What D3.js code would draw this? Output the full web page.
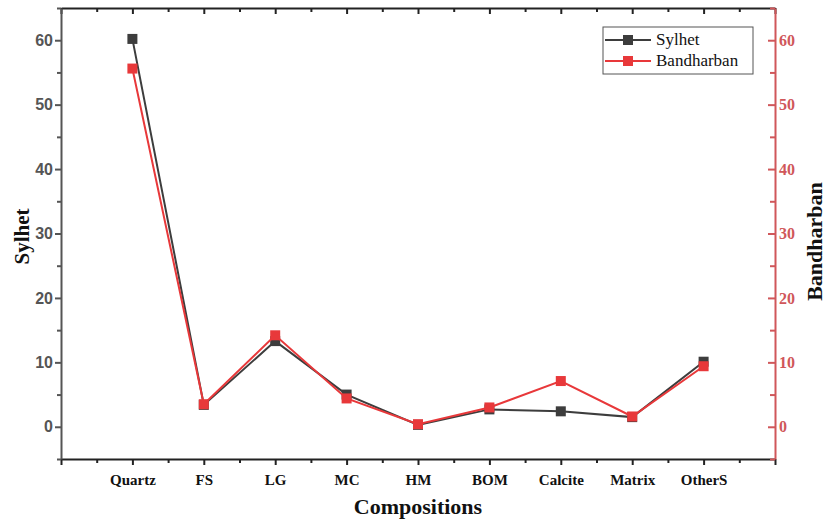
<!DOCTYPE html>
<html>
<head>
<meta charset="utf-8">
<script src="https://cdn.jsdelivr.net/npm/d3@7"></script>
<style>
  body { margin: 0; background: #fff; }
  svg { display: block; }
</style>
</head>
<body>
<div id="chart"></div>
<script>
// data
var categories = ["Quartz", "FS", "LG", "MC", "HM", "BOM", "Calcite", "Matrix", "OtherS"];
var sylhet = [60.2, 3.4, 13.3, 5.0, 0.3, 2.7, 2.4, 1.5, 10.1];
var bandharban = [55.6, 3.5, 14.2, 4.4, 0.4, 3.0, 7.1, 1.6, 9.4];
var yTicks = [0, 10, 20, 30, 40, 50, 60];

var svgWidth = 827, svgHeight = 521;
var margin = { top: 8, right: 52, bottom: 62, left: 61 };
var width = svgWidth - margin.left - margin.right;
var height = svgHeight - margin.top - margin.bottom;

var grayColor = "#3d3d3d", redColor = "#e8383a", redAxis = "#d0575a";

var x = d3.scaleLinear().domain([0, categories.length + 1]).range([0, width]);
var yL = d3.scaleLinear().domain([-5, 65]).range([height, 0]);
var yR = d3.scaleLinear().domain([-5, 65]).range([height, 0]);

var svg = d3.select("#chart").append("svg")
  .attr("width", svgWidth)
  .attr("height", svgHeight);

var g = svg.append("g")
  .attr("transform", "translate(" + margin.left + "," + margin.top + ")");

var majorX = d3.range(0, categories.length + 2);
var minorX = d3.range(0, categories.length + 1).map(function(d) { return d + 0.5; });
var minorY = d3.range(-5, 66, 10);

// bottom axis - minor ticks
g.append("g")
  .attr("transform", "translate(0," + height + ")")
  .call(d3.axisBottom(x).tickValues(minorX).tickSize(4).tickSizeOuter(0).tickFormat(""))
  .call(function(a) { a.select(".domain").remove(); a.selectAll("line").attr("stroke", "#222").attr("stroke-width", 2); });

// bottom axis - major ticks + labels
g.append("g")
  .attr("transform", "translate(0," + height + ")")
  .call(d3.axisBottom(x).tickValues(majorX).tickSize(6).tickSizeOuter(0)
    .tickFormat(function(d) { return categories[d - 1] || ""; }))
  .call(function(a) {
    a.select(".domain").attr("stroke", "#222").attr("stroke-width", 2);
    a.selectAll("line").attr("stroke", "#222").attr("stroke-width", 2);
    a.selectAll("text")
      .attr("fill", "#111")
      .attr("dy", "1.1em")
      .style("font-family", "'Liberation Serif', 'Times New Roman', serif")
      .style("font-weight", "bold")
      .style("font-size", "15px");
  });

// top axis - ticks point inward
g.append("g")
  .call(d3.axisTop(x).tickValues(majorX).tickSize(-6).tickSizeOuter(0).tickFormat(""))
  .call(function(a) { a.select(".domain").attr("stroke", "#222").attr("stroke-width", 2); a.selectAll("line").attr("stroke", "#222").attr("stroke-width", 2); });
g.append("g")
  .call(d3.axisTop(x).tickValues(minorX).tickSize(-4).tickSizeOuter(0).tickFormat(""))
  .call(function(a) { a.select(".domain").remove(); a.selectAll("line").attr("stroke", "#222").attr("stroke-width", 2); });

// left axis (Sylhet)
g.append("g")
  .call(d3.axisLeft(yL).tickValues(minorY).tickSize(4).tickSizeOuter(0).tickFormat(""))
  .call(function(a) { a.select(".domain").remove(); a.selectAll("line").attr("stroke", "#555").attr("stroke-width", 2); });
g.append("g")
  .call(d3.axisLeft(yL).tickValues(yTicks).tickSize(6).tickSizeOuter(0))
  .call(function(a) {
    a.select(".domain").attr("stroke", "#555").attr("stroke-width", 2);
    a.selectAll("line").attr("stroke", "#555").attr("stroke-width", 2);
    a.selectAll("text")
      .attr("fill", "#555")
      .attr("x", -8)
      .style("font-family", "'Liberation Sans', Arial, sans-serif")
      .style("font-weight", "bold")
      .style("font-size", "16px");
  });

// right axis (Bandharban) - ticks inward
g.append("g")
  .attr("transform", "translate(" + width + ",0)")
  .call(d3.axisRight(yR).tickValues(minorY).tickSize(-5).tickSizeOuter(0).tickFormat(""))
  .call(function(a) { a.select(".domain").remove(); a.selectAll("line").attr("stroke", redAxis).attr("stroke-width", 2); });
g.append("g")
  .attr("transform", "translate(" + width + ",0)")
  .call(d3.axisRight(yR).tickValues(yTicks).tickSize(-7).tickSizeOuter(0))
  .call(function(a) {
    a.select(".domain").attr("stroke", redAxis).attr("stroke-width", 2);
    a.selectAll("line").attr("stroke", redAxis).attr("stroke-width", 2);
    a.selectAll("text")
      .attr("fill", redAxis)
      .attr("x", 4)
      .style("font-family", "'Liberation Serif', 'Times New Roman', serif")
      .style("font-weight", "bold")
      .style("font-size", "16px");
  });

// series
function drawSeries(values, scale, color) {
  var line = d3.line()
    .x(function(d, i) { return x(i + 1); })
    .y(function(d) { return scale(d); });
  g.append("path")
    .datum(values)
    .attr("fill", "none")
    .attr("stroke", color)
    .attr("stroke-width", 2)
    .attr("d", line);
  g.selectAll(null)
    .data(values)
    .enter().append("rect")
    .attr("x", function(d, i) { return x(i + 1) - 5; })
    .attr("y", function(d) { return scale(d) - 5; })
    .attr("width", 10)
    .attr("height", 10)
    .attr("fill", color);
}
drawSeries(sylhet, yL, grayColor);
drawSeries(bandharban, yR, redColor);

// axis titles
svg.append("text")
  .attr("transform", "translate(29," + (margin.top + height / 2 + 3) + ") rotate(-90)")
  .attr("text-anchor", "middle")
  .style("font-family", "'Liberation Serif', 'Times New Roman', serif")
  .style("font-weight", "bold")
  .style("font-size", "21px")
  .attr("fill", "#111")
  .text("Sylhet");

svg.append("text")
  .attr("transform", "translate(822," + (margin.top + height / 2 + 8) + ") rotate(-90)")
  .attr("text-anchor", "middle")
  .style("font-family", "'Liberation Serif', 'Times New Roman', serif")
  .style("font-weight", "bold")
  .style("font-size", "22px")
  .attr("fill", "#111")
  .text("Bandharban");

svg.append("text")
  .attr("x", margin.left + width / 2)
  .attr("y", 514)
  .attr("text-anchor", "middle")
  .style("font-family", "'Liberation Serif', 'Times New Roman', serif")
  .style("font-weight", "bold")
  .style("font-size", "22px")
  .attr("fill", "#111")
  .text("Compositions");

// legend
var legend = svg.append("g").attr("transform", "translate(603,27)");
legend.append("rect")
  .attr("width", 150).attr("height", 47)
  .attr("fill", "#fff").attr("stroke", "#555").attr("stroke-width", 1);
var legendItems = [
  { name: "Sylhet", color: grayColor },
  { name: "Bandharban", color: redColor }
];
legendItems.forEach(function(item, i) {
  var yy = 13 + i * 21;
  legend.append("line")
    .attr("x1", 2).attr("x2", 48).attr("y1", yy).attr("y2", yy)
    .attr("stroke", item.color).attr("stroke-width", 2);
  legend.append("rect")
    .attr("x", 20).attr("y", yy - 5).attr("width", 10).attr("height", 10)
    .attr("fill", item.color);
  legend.append("text")
    .attr("x", 53).attr("y", yy + 5)
    .style("font-family", "'Liberation Serif', 'Times New Roman', serif")
    .style("font-size", "17px")
    .attr("fill", "#111")
    .text(item.name);
});
</script>
</body>
</html>
